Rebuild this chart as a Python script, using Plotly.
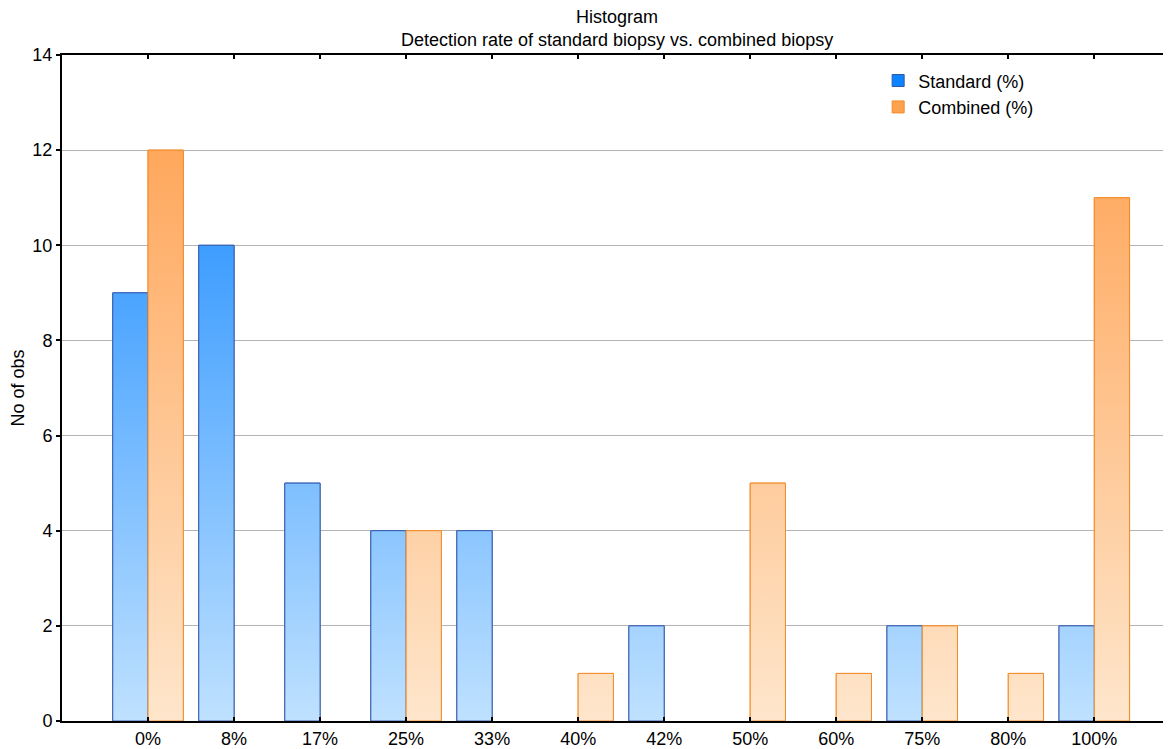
import plotly.graph_objects as go

categories = ["0%", "8%", "17%", "25%", "33%", "40%", "42%", "50%", "60%", "75%", "80%", "100%"]
standard = [9, 10, 5, 4, 4, 0, 2, 0, 0, 2, 0, 2]
combined = [12, 0, 0, 4, 0, 1, 0, 5, 1, 2, 1, 11]

W = 0.41
xpos = list(range(len(categories)))

def polys(vals, off):
    xs, ys = [], []
    for i, v in zip(xpos, vals):
        if v <= 0:
            continue
        x0, x1 = i + off, i + off + W
        xs += [x0, x1, x1, x0, x0, None]
        ys += [0, 0, v, v, 0, None]
    return xs, ys

def nz(vals):
    return [v if v > 0 else None for v in vals]

FONT = "Liberation Sans, Arial, sans-serif"
FS = 18
fig = go.Figure()

# bars (legend + base)
fig.add_trace(go.Bar(x=xpos, y=nz(standard), name="Standard (%)", offset=-W, width=W,
                     marker=dict(color="#0d84ff", line=dict(color="#2f58a8", width=1)),
                     hoverinfo="skip"))
fig.add_trace(go.Bar(x=xpos, y=nz(combined), name="Combined (%)", offset=0, width=W,
                     marker=dict(color="#ffa250", line=dict(color="#f28c2a", width=1)),
                     hoverinfo="skip"))

# gradient overlays
sx, sy = polys(standard, -W)
fig.add_trace(go.Scatter(x=sx, y=sy, mode="lines", fill="toself", showlegend=False,
                         line=dict(color="#3a5fae", width=1),
                         fillgradient=dict(type="vertical", start=0, stop=14,
                                           colorscale=[[0, "#bfe1ff"], [1, "#0a82ff"]]),
                         hoverinfo="skip"))
cx, cy = polys(combined, 0)
fig.add_trace(go.Scatter(x=cx, y=cy, mode="lines", fill="toself", showlegend=False,
                         line=dict(color="#f28c2a", width=1),
                         fillgradient=dict(type="vertical", start=0, stop=14,
                                           colorscale=[[0, "#fee6cc"], [1, "#ff9d4a"]]),
                         hoverinfo="skip"))

fig.update_layout(
    width=1163, height=741,
    paper_bgcolor="white", plot_bgcolor="white",
    margin=dict(l=54, r=1, t=47, b=28, autoexpand=False),
    barmode="overlay",
    font=dict(family=FONT, size=FS, color="black"),
    title=dict(text="Histogram<br>Detection rate of standard biopsy vs. combined biopsy",
               x=0.5237, xanchor="center", y=1 - 15 / 741, yanchor="middle",
               font=dict(family=FONT, size=FS, color="black")),
    legend=dict(x=0.7366, y=0.989, xanchor="left", yanchor="top",
                bgcolor="rgba(0,0,0,0)", font=dict(family=FONT, size=FS),
                tracegroupgap=0, itemwidth=30),
    showlegend=True,
)
fig.update_xaxes(range=[-1, 11.88], tickmode="array", tickvals=xpos, ticktext=categories,
                 showgrid=False, zeroline=False, showline=True, linecolor="black", linewidth=2,
                 ticks="inside", ticklen=4, tickwidth=2, tickcolor="black", mirror="ticks",
                 tickfont=dict(family=FONT, size=FS), automargin=False)
fig.update_yaxes(range=[0, 14], dtick=2, showgrid=True, gridcolor="#b4b4b4", gridwidth=1,
                 zeroline=False, showline=True, linecolor="black", linewidth=2,
                 ticks="outside", ticklen=4, tickwidth=2, tickcolor="black",
                 title=dict(text="No of obs", font=dict(family=FONT, size=FS), standoff=6),
                 tickfont=dict(family=FONT, size=FS), automargin=False)

fig.write_html("out.html")
